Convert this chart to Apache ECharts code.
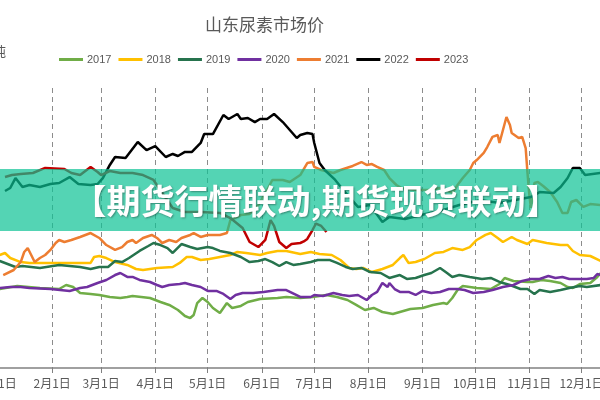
<!DOCTYPE html>
<html>
<head>
<meta charset="utf-8">
<script src="https://cdn.jsdelivr.net/npm/echarts@6/dist/echarts.min.js"></script>
<style>
  html, body { margin: 0; padding: 0; background: #fff; }
  #chart { width: 600px; height: 400px; }
</style>
</head>
<body>
<div id="chart"></div>
<script>
// 日期轴：每年 365 天，标签只显示每月 1 日
const monthDays = [31, 28, 31, 30, 31, 30, 31, 31, 30, 31, 30, 31];
const years = ["2017", "2018", "2019", "2020", "2021", "2022", "2023"];
const colors = ["#70AD47", "#FFC000", "#26734D", "#7030A0", "#ED7D31", "#000000", "#C00000"];

// [第几天, 元/吨]
const p2017 = [[1,1705],[11,1732],[24,1714],[35,1705],[39,1741],[43,1723],[47,1670],[53,1661],[58,1652],[64,1634],[70,1625],[74,1634],[77,1643],[87,1625],[93,1589],[98,1563],[103,1518],[107,1464],[110,1446],[112,1473],[114,1580],[117,1625],[120,1589],[123,1536],[127,1491],[131,1580],[134,1536],[139,1554],[143,1589],[150,1616],[160,1625],[165,1634],[173,1625],[180,1634],[188,1652],[194,1634],[200,1607],[205,1563],[210,1518],[215,1536],[220,1500],[226,1482],[230,1500],[236,1527],[243,1536],[249,1563],[255,1580],[257,1571],[260,1625],[263,1696],[266,1732],[270,1723],[274,1714],[282,1705],[287,1750],[290,1804],[295,1777],[303,1768],[306,1768],[311,1786],[316,1777],[322,1759],[326,1723],[329,1714],[333,1750],[339,1759],[343,1813],[345,1848]];
const p2018 = [[1,2009],[4,2027],[7,1982],[13,1946],[18,1938],[30,1938],[53,1938],[55,1991],[58,2000],[62,1982],[67,1946],[74,1920],[79,1884],[83,1875],[91,1893],[100,1902],[104,1938],[108,1991],[111,1991],[116,1964],[121,1973],[127,1991],[133,2009],[137,2036],[142,2027],[150,2009],[154,2027],[160,2045],[165,2045],[173,2018],[179,2036],[184,2018],[191,2009],[196,1964],[201,1893],[205,1884],[209,1893],[214,1857],[220,1884],[226,1920],[230,1982],[232,2009],[235,1938],[239,1946],[244,1973],[250,2027],[255,2036],[260,2071],[266,2054],[270,2080],[274,2143],[279,2188],[282,2205],[286,2161],[289,2125],[294,2170],[297,2143],[303,2107],[306,2143],[314,2116],[322,2098],[326,2098],[329,2045],[333,2009],[339,2000],[345,1955]];
const p2019 = [[1,1955],[10,1902],[14,1911],[24,1893],[35,1920],[47,1902],[53,1884],[58,1902],[63,1902],[67,1955],[71,1946],[75,1982],[81,2045],[86,2089],[89,2116],[93,2098],[97,2071],[100,2027],[105,2107],[110,2080],[114,2063],[120,2080],[123,2071],[127,2045],[133,2027],[139,1991],[144,1946],[149,1955],[153,1973],[157,1946],[161,1911],[165,1946],[169,1920],[173,1929],[179,1946],[183,1964],[190,1964],[194,1938],[199,1902],[203,1884],[208,1893],[213,1857],[219,1848],[224,1804],[230,1830],[234,1795],[239,1804],[244,1830],[248,1848],[253,1893],[257,1848],[260,1813],[264,1830],[270,1813],[277,1795],[282,1804],[287,1768],[293,1741],[299,1705],[303,1705],[307,1661],[310,1696],[316,1679],[322,1696],[327,1714],[333,1732],[337,1723],[345,1741]];
const p2020 = [[1,1714],[7,1723],[13,1723],[18,1714],[30,1705],[41,1688],[47,1714],[51,1723],[57,1759],[62,1786],[67,1830],[70,1848],[74,1813],[77,1813],[81,1786],[87,1768],[91,1741],[94,1723],[98,1741],[104,1750],[107,1759],[111,1741],[116,1723],[120,1688],[125,1688],[129,1661],[133,1616],[136,1652],[140,1670],[146,1670],[152,1679],[160,1696],[165,1696],[173,1634],[179,1634],[181,1652],[186,1643],[192,1670],[197,1652],[201,1643],[206,1652],[211,1607],[214,1652],[217,1679],[220,1759],[223,1723],[224,1759],[227,1705],[230,1679],[235,1679],[239,1652],[243,1688],[248,1670],[253,1679],[258,1705],[263,1705],[267,1696],[272,1670],[278,1679],[283,1696],[289,1723],[295,1741],[300,1777],[305,1795],[310,1795],[315,1821],[319,1804],[323,1813],[327,1795],[337,1795],[341,1804],[343,1839],[345,1830]];
const p2021 = [[3,1830],[9,1875],[13,1946],[15,2036],[17,2071],[19,2009],[21,1946],[24,1982],[27,2009],[30,2054],[33,2116],[35,2143],[38,2125],[42,2143],[47,2170],[53,2205],[54,2188],[58,2161],[62,2098],[67,2054],[71,2080],[74,2125],[77,2143],[79,2116],[83,2161],[88,2188],[91,2161],[94,2116],[98,2143],[102,2125],[105,2161],[110,2188],[112,2205],[116,2170],[120,2188],[127,2188],[131,2205],[133,2321],[139,2366],[144,2375],[149,2455],[154,2589],[157,2679],[163,2679],[167,2661],[173,2723],[177,2830],[180,2839],[181,2795],[185,2768],[192,2741],[196,2768],[203,2804],[208,2839],[211,2813],[214,2821],[217,2795],[221,2768],[224,2696],[228,2634],[231,2607],[239,2589],[247,2589],[253,2607],[260,2563],[263,2634],[266,2696],[270,2768],[272,2830],[274,2857],[278,2920],[280,2973],[283,3063],[286,3080],[287,3009],[289,3125],[291,3241],[293,3170],[294,3098],[298,3054],[300,3063],[302,2964],[303,2750],[304,2560],[305,2430],[307,2652],[309,2660],[312,2625],[316,2571],[320,2482],[323,2384],[326,2384],[328,2482],[331,2500],[335,2438],[339,2464],[345,2455]];
const p2022 = [[4,2580],[7,2607],[10,2696],[11,2696],[14,2616],[18,2634],[24,2616],[30,2643],[35,2652],[41,2705],[46,2643],[53,2634],[57,2643],[60,2696],[64,2813],[67,2884],[73,2875],[80,3018],[85,2946],[90,2982],[96,2884],[100,2911],[103,2893],[107,2929],[111,2929],[116,3009],[118,3089],[123,3089],[129,3259],[132,3223],[137,3268],[139,3223],[143,3232],[147,3196],[150,3223],[154,3223],[158,3268],[163,3196],[167,3125],[171,3054],[173,3080],[177,3098],[180,3089],[181,3009],[184,2830],[187,2768],[193,2679],[199,2563],[206,2438],[213,2455],[220,2304],[224,2348],[233,2330],[242,2366],[253,2402],[264,2455],[276,2500],[287,2473],[296,2500],[305,2527],[310,2571],[318,2563],[322,2616],[326,2696],[329,2786],[333,2786],[336,2723],[345,2741]];
const p2023 = [[4,2705],[8,2723],[13,2732],[20,2741],[27,2786],[38,2777],[42,2741],[47,2723],[53,2795],[57,2750],[59,2723],[64,2759],[70,2741],[77,2741],[83,2723],[89,2679],[96,2518],[100,2429],[107,2393],[116,2393],[127,2384],[133,2339],[140,2250],[144,2125],[149,2080],[153,2143],[156,2321],[158,2268],[161,2125],[165,2071],[168,2107],[173,2116],[175,2130],[177,2152],[180,2232],[182,2290],[185,2268],[188,2214]];
const seriesData = [p2017, p2018, p2019, p2020, p2021, p2022, p2023];

const dayLabels = [];
monthDays.forEach((n, m) => {
  for (let d = 1; d <= n; d++) dayLabels.push((m + 1) + "月" + d + "日");
});
const isMonthStart = (i, v) => v.endsWith("月1日");

const myChart = echarts.init(document.getElementById("chart"));
myChart.setOption({
  animation: false,
  title: {
    text: "山东尿素市场价",
    left: 205,
    top: 16,
    padding: 0,
    textStyle: {
      fontFamily: "Noto Sans CJK SC",
      fontSize: 17,
      fontWeight: "normal",
      color: "#595959"
    }
  },
  legend: {
    left: 59,
    top: 54,
    padding: 0,
    itemWidth: 24,
    itemHeight: 3,
    itemGap: 7,
    icon: "rect",
    textStyle: {
      fontFamily: "Liberation Sans",
      fontSize: 11,
      color: "#595959",
      padding: [0, 0, 0, -1]
    },
    data: years
  },
  grid: {
    left: -2,
    right: -34,
    top: 88,
    bottom: 32,
    outerBoundsMode: "none",
    containLabel: false
  },
  xAxis: {
    type: "category",
    data: dayLabels,
    boundaryGap: false,
    axisLine: {
      lineStyle: { color: "#808080", width: 1.5 }
    },
    axisTick: {
      interval: isMonthStart,
      length: 5,
      lineStyle: { color: "#808080" }
    },
    axisLabel: {
      interval: isMonthStart,
      margin: 9,
      fontFamily: "Noto Sans CJK SC",
      fontSize: 12,
      color: "#595959"
    },
    splitLine: {
      show: true,
      interval: isMonthStart,
      lineStyle: { color: "#8c8c8c", type: [5, 4], width: 1 }
    }
  },
  yAxis: {
    type: "value",
    min: 1000,
    max: 3500,
    show: false
  },
  series: years.map((y, i) => ({
    name: y,
    type: "line",
    data: seriesData[i],
    symbol: "none",
    color: colors[i],
    lineStyle: { width: 2.5, color: colors[i] }
  })),
  graphic: [
    {
      type: "text",
      right: 594,
      top: 45,
      z: 10,
      style: {
        text: "元/吨",
        fontFamily: "Noto Sans CJK SC",
        fontSize: 13,
        fill: "#595959"
      }
    },
    {
      type: "rect",
      z: 100,
      shape: { x: 0, y: 169, width: 600, height: 62 },
      style: { fill: "rgba(11, 194, 148, 0.7)" }
    },
    {
      type: "text",
      z: 101,
      x: 316,
      y: 201,
      style: {
        text: "【期货行情联动,期货现货联动】",
        fontFamily: "Noto Sans CJK SC",
        fontSize: 34,
        fontWeight: "bold",
        fill: "#ffffff",
        align: "center",
        verticalAlign: "middle",
        textShadowColor: "rgba(0,0,0,0.35)",
        textShadowBlur: 2,
        textShadowOffsetX: 1,
        textShadowOffsetY: 1
      }
    }
  ]
});
</script>
</body>
</html>
